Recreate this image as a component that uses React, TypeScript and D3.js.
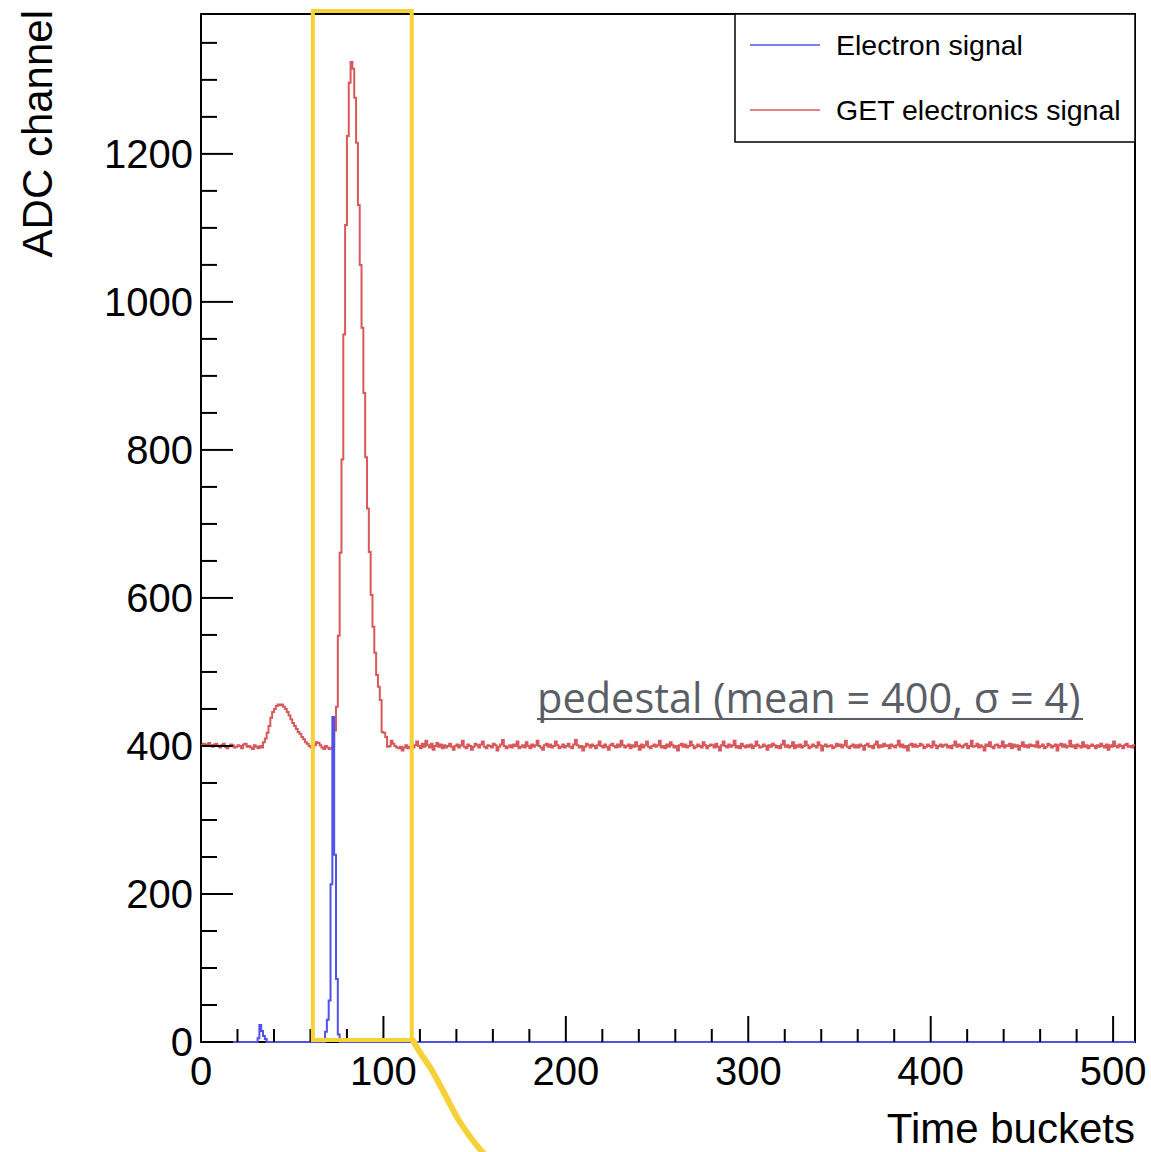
import React from "react";
import * as d3 from "d3";

// ---------------- DATA ----------------
const N_BINS = 512;
const Y_MAX = 1389;

// GET electronics signal (ADC channel per time bucket), bins 0..511
const getSignal: number[] = [
  // 0-33
  401, 403, 400, 402, 404, 401, 399, 402, 403, 400, 398, 401, 403, 399, 397, 400,
  402, 401, 398, 399, 401, 400, 397, 402, 403, 399, 400, 398, 396, 401, 399, 397,
  400, 398,
  // 34-72
  405, 410, 418, 427, 438, 446, 450, 454, 456, 455, 456, 453, 450, 446, 441, 436,
  431, 427, 423, 419, 416, 412, 409, 405, 403, 400, 398, 397, 401, 405, 404, 401,
  398, 396, 400, 398, 396, 397, 399,
  // 73-103
  421, 453, 549, 661, 787, 956, 1104, 1224, 1296, 1324, 1315, 1276, 1215, 1131, 1050, 965,
  877, 790, 721, 662, 604, 561, 526, 496, 480, 462, 419, 418, 412, 399, 400,
  // 104-511
  407, 403, 400, 398, 397, 399, 394, 398, 401, 397, 399, 402, 398, 401, 406, 400,
  397, 403, 399, 407, 401, 398, 403, 395, 400, 404, 399, 402, 397, 401, 398, 400,
  403, 399, 395, 400, 402, 398, 401, 407, 399, 397, 402, 400, 395, 399, 403, 401,
  398, 402, 406, 399, 397, 401, 400, 398, 403, 401, 394, 399, 402, 408, 400, 397,
  399, 401, 398, 402, 400, 406, 397, 399, 401, 398, 405, 400, 397, 402, 399, 401,
  407, 400, 398, 395, 401, 403, 399, 402, 398, 400, 406, 401, 397, 399, 402, 398,
  400, 403, 399, 397, 402, 408, 401, 398, 400, 394, 399, 403, 401, 398, 402, 400,
  397, 401, 406, 400, 398, 402, 399, 395, 401, 403, 400, 398, 402, 399, 407, 401,
  398, 400, 402, 397, 401, 399, 405, 400, 395, 402, 398, 401, 406, 399, 397, 400,
  402, 399, 401, 407, 398, 400, 397, 402, 399, 405, 401, 398, 400, 394, 401, 403,
  399, 402, 398, 400, 406, 401, 397, 399, 402, 400, 398, 405, 401, 397, 400, 402,
  401, 398, 403, 399, 394, 401, 406, 400, 398, 402, 399, 401, 407, 398, 400, 397,
  403, 400, 398, 401, 399, 402, 397, 400, 406, 401, 398, 399, 402, 400, 395, 401,
  399, 403, 401, 398, 400, 397, 402, 407, 399, 401, 398, 400, 405, 397, 401, 399,
  402, 398, 400, 406, 401, 397, 399, 402, 400, 398, 405, 401, 394, 400, 402, 399,
  400, 401, 397, 399, 403, 400, 402, 398, 401, 407, 399, 397, 400, 402, 398, 401,
  398, 402, 400, 395, 401, 403, 399, 400, 397, 402, 406, 398, 401, 399, 403, 400,
  401, 397, 402, 400, 398, 401, 407, 399, 402, 398, 400, 394, 401, 403, 399, 402,
  399, 400, 403, 401, 397, 399, 402, 400, 398, 406, 401, 397, 400, 402, 399, 401,
  402, 398, 400, 397, 401, 406, 399, 402, 400, 398, 401, 403, 397, 400, 407, 399,
  400, 403, 398, 401, 399, 394, 402, 400, 405, 399, 397, 401, 402, 398, 400, 406,
  398, 401, 400, 403, 397, 402, 399, 401, 395, 400, 405, 399, 401, 398, 402, 400,
  401, 399, 406, 398, 400, 402, 397, 399, 403, 401, 398, 400, 402, 394, 401, 403,
  399, 402, 398, 400, 407, 399, 401, 397, 402, 400, 398, 405, 399, 401, 397, 400,
  402, 400, 397, 401, 399, 403, 400, 398, 402, 395, 401, 399, 406, 400, 398, 402,
  400, 397, 401, 403, 399, 400, 398, 401,
];

// Electron signal: non-zero bins (all other bins are 0)
const electronBins: number[] = [31, 32, 33, 34, 35, 68, 69, 70, 71, 72, 73, 74, 75];
const electronValues: number[] = [5, 23, 15, 8, 4, 14, 30, 56, 213, 439, 253, 85, 10];

const xMajorTicks: number[] = [0, 100, 200, 300, 400, 500];
const yMajorTicks: number[] = [0, 200, 400, 600, 800, 1000, 1200];

const legendLabels: string[] = ["Electron signal", "GET electronics signal"];
const pedestalLabel = "pedestal (mean = 400, σ = 4)";

// ---------------- LAYOUT ----------------
const W = 1151;
const H = 1152;
const L = 201, R = 1135, T = 14, B = 1042;

const RED = "#d9585c";
const BLUE = "#5252e6";
const YELLOW = "#f6d137";
const FONT = "'Liberation Sans', Arial, Helvetica, sans-serif";

export default function App() {
  const x = d3.scaleLinear().domain([0, N_BINS]).range([L, R]);
  const y = d3.scaleLinear().domain([0, Y_MAX]).range([B, T]);

  const electron = d3.range(N_BINS).map(() => 0);
  electronBins.forEach((b, i) => (electron[b] = electronValues[i]));

  const stepLine = d3
    .line<[number, number]>()
    .x((d) => x(d[0]))
    .y((d) => y(d[1]))
    .curve(d3.curveStepAfter);

  const toPts = (arr: number[]): [number, number][] => {
    const pts: [number, number][] = arr.map((v, i) => [i, v]);
    pts.push([arr.length, arr[arr.length - 1]]);
    return pts;
  };

  const xMinor = d3.range(0, 512, 20).filter((v) => v % 100 !== 0);
  const yMinor = d3.range(0, Y_MAX, 50).filter((v) => v % 200 !== 0);

  // yellow annotation geometry
  const bx0 = x(61.3), bx1 = x(115.5);
  const by0 = 11, by1 = B - 2;
  const tail = d3
    .line<[number, number]>()
    .curve(d3.curveCatmullRom)([
    [bx1 + 1, by1],
    [bx1 + 8, by1 + 12],
    [bx1 + 20, by1 + 30],
    [bx1 + 33, by1 + 54],
    [bx1 + 47, by1 + 80],
    [bx1 + 64, by1 + 104],
    [bx1 + 76, by1 + 118],
  ]);

  return (
    <svg
      width={W}
      height={H}
      style={{ position: "absolute", left: 0, top: 0, background: "#fff" }}
      xmlns="http://www.w3.org/2000/svg"
    >
      <rect x={0} y={0} width={W} height={H} fill="#fff" />
      {/* frame */}
      <rect x={L} y={T} width={R - L} height={B - T} fill="none" stroke="#000" strokeWidth={2} />

      {/* histograms */}
      <path d={stepLine(toPts(getSignal)) || ""} fill="none" stroke={RED} strokeWidth={2} />
      <path d={stepLine(toPts(electron)) || ""} fill="none" stroke={BLUE} strokeWidth={2} />

      {/* y ticks */}
      {yMajorTicks.map((v) => (
        <g key={"ym" + v}>
          <line x1={L} x2={L + 32} y1={y(v)} y2={y(v)} stroke="#000" strokeWidth={2} />
          <text x={193} y={y(v) + 14} textAnchor="end" fontFamily={FONT} fontSize={40} fill="#000">
            {v}
          </text>
        </g>
      ))}
      {yMinor.map((v) => (
        <line key={"yn" + v} x1={L} x2={L + 16} y1={y(v)} y2={y(v)} stroke="#000" strokeWidth={2} />
      ))}

      {/* x ticks */}
      {xMajorTicks.map((v) => (
        <g key={"xm" + v}>
          <line x1={x(v)} x2={x(v)} y1={B} y2={B - 26} stroke="#000" strokeWidth={2} />
          <text x={x(v)} y={1085} textAnchor="middle" fontFamily={FONT} fontSize={40} fill="#000">
            {v}
          </text>
        </g>
      ))}
      {xMinor.map((v) => (
        <line key={"xn" + v} x1={x(v)} x2={x(v)} y1={B} y2={B - 13} stroke="#000" strokeWidth={2} />
      ))}

      {/* axis titles */}
      <text
        transform={`translate(52, 10) rotate(-90)`}
        textAnchor="end"
        fontFamily={FONT}
        fontSize={42}
        fill="#000"
      >
        ADC channel
      </text>
      <text x={R} y={1143} textAnchor="end" fontFamily={FONT} fontSize={42} fill="#000">
        Time buckets
      </text>

      {/* legend */}
      <rect x={735} y={T} width={R - 735} height={128} fill="#fff" stroke="#000" strokeWidth={1.5} />
      <line x1={750} x2={820} y1={45} y2={45} stroke={BLUE} strokeWidth={1.5} />
      <text x={836} y={55} fontFamily={FONT} fontSize={28.5} fill="#000">
        {legendLabels[0]}
      </text>
      <line x1={750} x2={820} y1={110} y2={110} stroke={RED} strokeWidth={1.5} />
      <text x={836} y={120} fontFamily={FONT} fontSize={28.5} fill="#000">
        {legendLabels[1]}
      </text>

      {/* pedestal annotation */}
      <text x={537} y={713} fontFamily="'Open Sans', 'Noto Sans', sans-serif" fontSize={41.5} fill="#5a5e66">
        {pedestalLabel}
      </text>
      <line x1={537} x2={1083} y1={719} y2={719} stroke="#5a5e66" strokeWidth={2} />

      {/* yellow highlight */}
      <rect
        x={bx0}
        y={by0}
        width={bx1 - bx0}
        height={by1 - by0}
        fill="none"
        stroke={YELLOW}
        strokeWidth={4}
      />
      <path d={tail || ""} fill="none" stroke={YELLOW} strokeWidth={6} strokeLinecap="round" />
    </svg>
  );
}
